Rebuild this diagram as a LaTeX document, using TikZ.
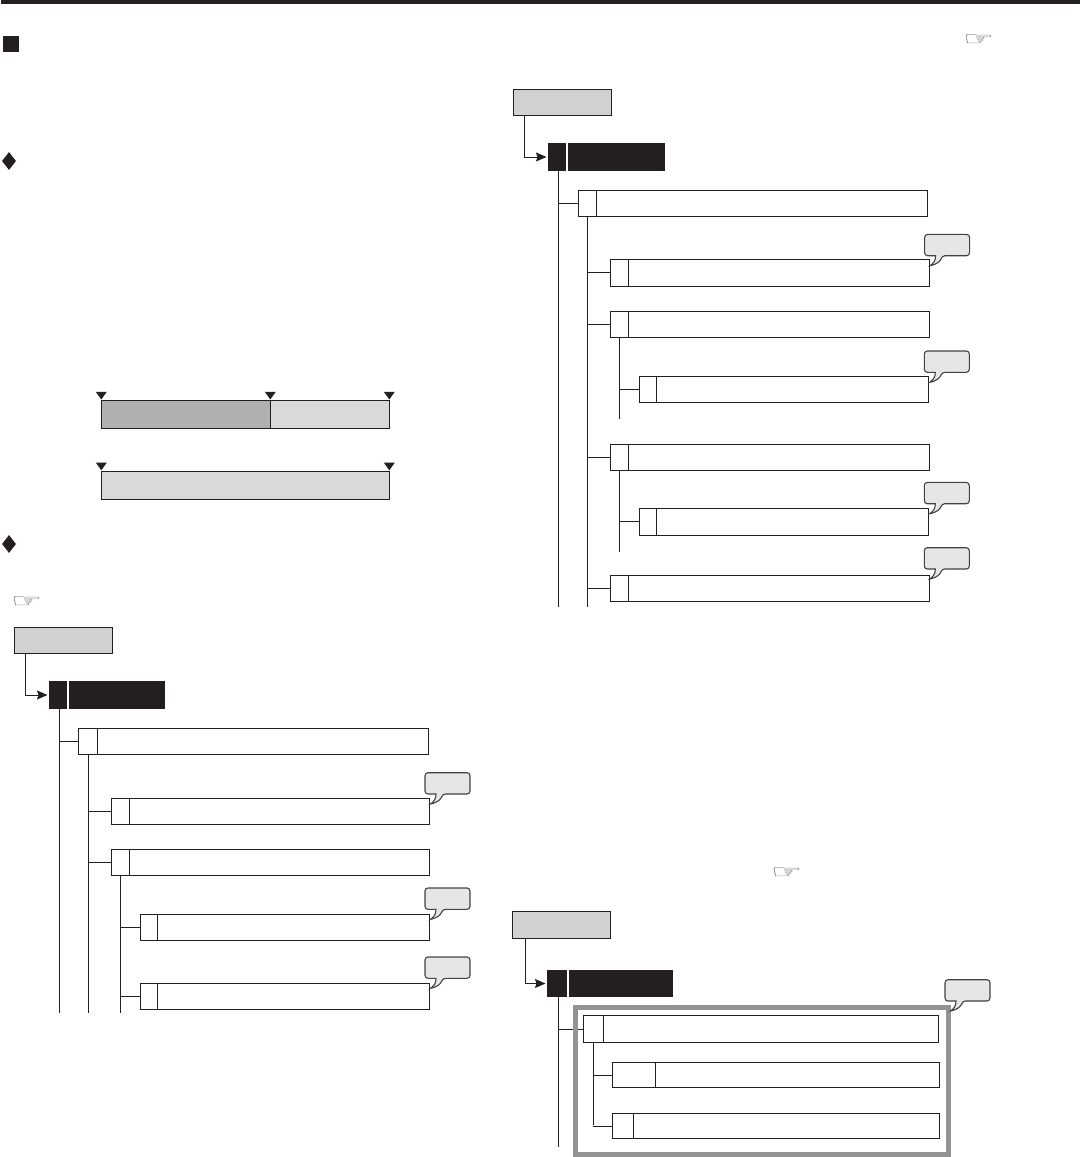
\documentclass[tikz,border=0pt]{standalone}
\usepackage{fontspec}
\usetikzlibrary{arrows.meta,positioning,shapes.geometric}
\newfontfamily\symfont{DejaVu Sans}
\definecolor{ink}{HTML}{231F20}
\definecolor{headgray}{HTML}{D1D1D1}
\definecolor{segdark}{HTML}{B0B0B0}
\definecolor{seglight}{HTML}{D9D9D9}
\definecolor{bubblegray}{HTML}{E6E6E6}
\definecolor{framegray}{HTML}{939393}

\begin{document}
\begin{tikzpicture}[
  x=1pt, y=-1pt,
  rowtag/.style={draw=ink, fill=white, line width=1pt, minimum width=#1, minimum height=26pt, inner sep=0pt, outer sep=0pt},
  rowbox/.style={draw=ink, fill=white, line width=1pt, minimum width=#1, minimum height=26pt, inner sep=0pt, outer sep=0pt},
  menu/.style={draw=ink, fill=headgray, line width=1pt, minimum width=98.4pt, minimum height=26.4pt, inner sep=0pt, outer sep=0pt},
  headtag/.style={fill=ink, minimum width=#1, minimum height=28pt, inner sep=0pt, outer sep=0pt},
  seg/.style={draw=ink, line width=1pt, minimum height=28.4pt, inner sep=0pt, outer sep=0pt},
  bulsq/.style={fill=ink, minimum size=16pt, inner sep=0pt},
  buldiam/.style={diamond, fill=ink, minimum width=14pt, minimum height=18pt, inner sep=0pt},
  hand/.style={font=\symfont\fontsize{27}{27}\selectfont, text=ink!70, inner sep=0pt},
  wire/.style={draw=ink, line width=1pt},
  arr/.style={wire, -{Stealth[length=10.5pt,width=9pt,inset=1.5pt]}, shorten >=1.5pt},
  tickmark/.style={fill=ink},
  frame/.style={draw=framegray, line width=5pt, minimum width=373pt, minimum height=146.8pt, inner sep=0pt},
  pics/bubble/.style={code={
    \filldraw[draw=ink!85, fill=bubblegray, line width=1.1pt, rounded corners=3pt]
      (-5,-20) |- (40,-31.3) |- (12.5,-10) [sharp corners]
      .. controls (11,-5) and (8,-1.5) .. (0.5,0)
      .. controls (4,-2.5) and (6,-5) .. (6,-10) [rounded corners=3pt]
      -| (-5,-20) -- cycle;
  }},
]
\useasboundingbox[fill=white] (0,0) rectangle (1080,1157);

% Top rule and bullets
\fill[ink] (1,0) rectangle (1080,4);
\node[bulsq] (sq1) at (11,44) {};
\node[buldiam] (dm1) at (9,161) {};
\node[buldiam] (dm2) at (9,544) {};

% Pointing hands
\node[hand] (hd1) at (26.5,602.5) {\scalebox{1.3}[0.7]{☞}};
\node[hand] (hd2) at (978.5,40.5) {\scalebox{1.3}[0.7]{☞}};
\node[hand] (hd3) at (786.5,873.5) {\scalebox{1.3}[0.7]{☞}};

% Time bars
\node[seg, fill=segdark, minimum width=169pt] (b1a) at (185.8,414.5) {};
\node[seg, fill=seglight, minimum width=119pt, right=0pt of b1a] (b1b) {};
\node[seg, fill=seglight, minimum width=288pt] (b2) at (245.3,485.3) {};
\fill[tickmark] (b1a.north west) ++(0,-0.8) -- ++(-5.5,-7.7) -- ++(11,0) -- cycle;
\fill[tickmark] (b1a.north east) ++(0,-0.8) -- ++(-5.5,-7.7) -- ++(11,0) -- cycle;
\fill[tickmark] (b1b.north east) ++(0,-0.8) -- ++(-5.5,-7.7) -- ++(11,0) -- cycle;
\fill[tickmark] (b2.north west) ++(0,-0.8) -- ++(-5.5,-7.7) -- ++(11,0) -- cycle;
\fill[tickmark] (b2.north east) ++(0,-0.8) -- ++(-5.5,-7.7) -- ++(11,0) -- cycle;

% Left tree
\node[menu] (g1) at (63.5,640.5) {};
\node[headtag=18pt] (h1t) at (58,695) {};
\node[headtag=96pt, right=2pt of h1t] (h1) {};
\node[rowtag=19pt, minimum height=25.5pt] (l1t) at (87.8,741.7) {};
\node[rowbox=331pt, minimum height=25.5pt, right=0pt of l1t] (l1) {};
\node[rowtag=18pt] (l2t) at (120.3,811.3) {};
\node[rowbox=300pt, right=0pt of l2t] (l2) {};
\node[rowtag=18pt] (l3t) at (120.3,862.3) {};
\node[rowbox=300pt, right=0pt of l3t] (l3) {};
\node[rowtag=17pt] (l4t) at (148.8,927.3) {};
\node[rowbox=272pt, right=0pt of l4t] (l4) {};
\node[rowtag=17pt] (l5t) at (148.8,996.3) {};
\node[rowbox=272pt, right=0pt of l5t] (l5) {};
\coordinate (t1) at (59.3,1013);
\coordinate (t2) at (88.4,1013);
\coordinate (t2b) at (120,1013);
\draw[arr] ([xshift=11pt]g1.south west) |- (h1t.west);
\draw[wire] (t1 |- h1t.south) -- (t1);
\draw[wire] (t1 |- l1t) -- (l1t);
\draw[wire] (t2 |- l1t.south) -- (t2);
\draw[wire] (t2 |- l2t) -- (l2t);
\draw[wire] (t2 |- l3t) -- (l3t);
\draw[wire] (t2b |- l3t.south) -- (t2b);
\draw[wire] (t2b |- l4t) -- (l4t);
\draw[wire] (t2b |- l5t) -- (l5t);
\pic at (430,804) {bubble};
\pic at (430,919.3) {bubble};
\pic at (430,988.3) {bubble};

% Right tree
\node[menu] (g2) at (562.2,102.5) {};
\node[headtag=18pt] (h2t) at (557,157) {};
\node[headtag=97pt, right=2pt of h2t] (h2) {};
\node[rowtag=18pt, minimum height=26.4pt] (m1t) at (587.4,203.5) {};
\node[rowbox=331.2pt, minimum height=26.4pt, right=0pt of m1t] (m1) {};
\node[rowtag=18pt, minimum height=27pt] (m2t) at (619.4,272.8) {};
\node[rowbox=301.2pt, minimum height=27pt, right=0pt of m2t] (m2) {};
\node[rowtag=18pt] (m3t) at (619.4,324.3) {};
\node[rowbox=301pt, right=0pt of m3t] (m3) {};
\node[rowtag=17pt] (m4t) at (647.8,389.3) {};
\node[rowbox=272pt, right=0pt of m4t] (m4) {};
\node[rowtag=18pt] (m5t) at (619.3,457.3) {};
\node[rowbox=301pt, right=0pt of m5t] (m5) {};
\node[rowtag=17pt, minimum height=27pt] (m6t) at (647.8,521.8) {};
\node[rowbox=272pt, minimum height=27pt, right=0pt of m6t] (m6) {};
\node[rowtag=18pt] (m7t) at (619.3,588.3) {};
\node[rowbox=301pt, right=0pt of m7t] (m7) {};
\coordinate (t3) at (558.4,607);
\coordinate (t4) at (587.8,607);
\coordinate (t5) at (619.5,419.3);
\coordinate (t6) at (619.5,552);
\draw[arr] ([xshift=11pt]g2.south west) |- (h2t.west);
\draw[wire] (t3 |- h2t.south) -- (t3);
\draw[wire] (t3 |- m1t) -- (m1t);
\draw[wire] (t4 |- m1t.south) -- (t4);
\draw[wire] (t4 |- m2t) -- (m2t);
\draw[wire] (t4 |- m3t) -- (m3t);
\draw[wire] (t5 |- m3t.south) -- (t5);
\draw[wire] (t5 |- m4t) -- (m4t);
\draw[wire] (t4 |- m5t) -- (m5t);
\draw[wire] (t6 |- m5t.south) -- (t6);
\draw[wire] (t6 |- m6t) -- (m6t);
\draw[wire] (t4 |- m7t) -- (m7t);
\pic at (929.6,265.7) {bubble};
\pic at (929.3,382.3) {bubble};
\pic at (929.3,513.7) {bubble};
\pic at (929.3,579) {bubble};

% Lower right tree, boxed group
\node[menu, minimum height=27.4pt] (g3) at (561.5,925) {};
\node[headtag=20pt, minimum height=27pt] (h3t) at (557,983.5) {};
\node[headtag=104pt, minimum height=27pt, right=2pt of h3t] (h3) {};
\node[rowtag=20pt, minimum height=27.4pt] (n1t) at (593.3,1029) {};
\node[rowbox=335.4pt, minimum height=27.4pt, right=0pt of n1t] (n1) {};
\node[rowtag=43.4pt, minimum height=25.4pt] (n2t) at (634,1075) {};
\node[rowbox=284pt, minimum height=25.4pt, right=0pt of n2t] (n2) {};
\node[rowtag=21.4pt, minimum height=25.4pt] (n3t) at (623,1126) {};
\node[rowbox=306pt, minimum height=25.4pt, right=0pt of n3t] (n3) {};
\coordinate (t7) at (558.3,1146.7);
\coordinate (t8) at (593.3,1125.3);
\draw[arr] ([xshift=13pt]g3.south west) |- (h3t.west);
\draw[wire] (t7 |- h3t.south) -- (t7);
\draw[wire] (t7 |- n1t) -- (n1t);
\draw[wire] (t8 |- n1t.south) -- (t8);
\draw[wire] (t8 |- n2t) -- (n2t);
\draw[wire] (t8 |- n3t) -- (n3t);
\node[frame] (fr) at (762,1081.1) {};
\pic at (950,1011) {bubble};

\end{tikzpicture}
\end{document}
